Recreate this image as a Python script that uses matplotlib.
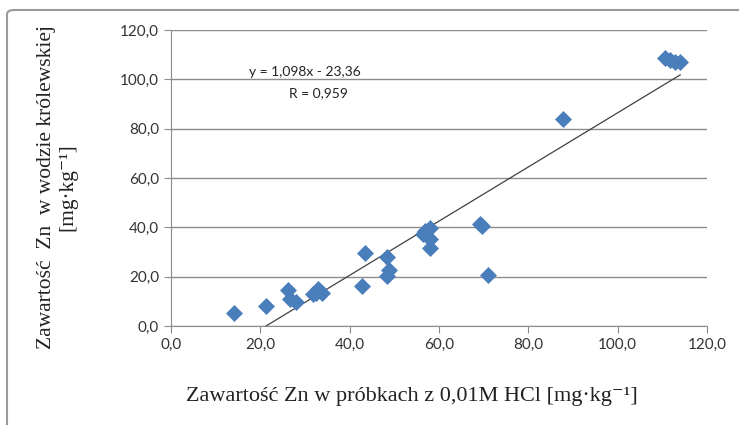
import numpy as np
import matplotlib.pyplot as plt
from matplotlib.patches import FancyBboxPatch

# data
x_hcl = [14.1, 21.2, 26.1, 26.7, 28.0, 31.9, 32.5, 33.0, 33.7, 42.8, 43.5, 48.4,
         48.9, 48.3, 70.9, 56.4, 56.9, 57.9, 57.9, 57.9, 69.2, 69.6, 87.7,
         110.6, 111.8, 112.9, 114.0]
y_krol = [5.2, 8.2, 14.7, 10.9, 9.8, 12.9, 13.5, 15.0, 13.3, 16.3, 29.4, 28.0,
          22.6, 20.1, 20.5, 37.1, 38.5, 39.9, 35.1, 31.7, 41.2, 40.5, 84.1,
          108.6, 107.9, 106.9, 107.2]
slope = 1.098
intercept = -23.36
r_value = 0.959
ticks = [0, 20, 40, 60, 80, 100, 120]

serif = ['Liberation Serif', 'DejaVu Serif']

fig = plt.figure(figsize=(7.39, 4.25), dpi=100)

# outer chart frame (cut off on the right and bottom like the source)
frame = FancyBboxPatch((7 / 739, -0.05), 1.05, 1 - 10 / 425 + 0.05,
                       boxstyle="round,pad=0,rounding_size=0.01",
                       transform=fig.transFigure, fill=False,
                       edgecolor='#9a9a9a', linewidth=1.5)
fig.patches.append(frame)

ax = fig.add_axes([171 / 739, 1 - 326 / 425, (707 - 171) / 739, (326 - 30) / 425])

ax.scatter(x_hcl, y_krol, marker='D', s=75, color='#4a7ebb', zorder=3,
           linewidths=0)

xs = np.array([min(x_hcl), max(x_hcl)])
ax.plot(xs, slope * xs + intercept, color='#404040', linewidth=0.9, zorder=2)

ax.set_xlim(0, 120)
ax.set_ylim(0, 120)
ax.set_xticks(ticks)
ax.set_yticks(ticks)
ax.set_xticklabels([f"{t:.1f}".replace('.', ',') for t in ticks])
ax.set_yticklabels([f"{t:.1f}".replace('.', ',') for t in ticks])
ax.grid(axis='y', color='#8c8c8c', linewidth=1)
ax.set_axisbelow(True)
for s in ['top', 'right']:
    ax.spines[s].set_visible(False)
for s in ['left', 'bottom']:
    ax.spines[s].set_color('#8c8c8c')
ax.tick_params(colors='#8c8c8c', length=5, labelcolor='#333333',
               labelsize=11)
for lab in ax.get_xticklabels() + ax.get_yticklabels():
    lab.set_family('Lato')

ax.text(305 / 739, 1 - 72 / 425,
        "y = " + f"{slope:.3f}".replace('.', ',') + "x - "
        + f"{-intercept:.2f}".replace('.', ','),
        transform=fig.transFigure, ha='center', va='center', fontsize=10,
        family='Lato', color='#222222')
ax.text(318 / 739, 1 - 93 / 425, "R = " + f"{r_value:.3f}".replace('.', ','),
        transform=fig.transFigure, ha='center', va='center', fontsize=10,
        family='Lato', color='#222222')

fig.text(412 / 739, 1 - 396 / 425,
         "Zawartość Zn w próbkach z 0,01M HCl [mg·kg⁻¹]",
         ha='center', va='center', fontsize=16, family=serif,
         color='#222222')
fig.text(57 / 739, 1 - 187 / 425,
         "Zawartość  Zn  w wodzie królewskiej\n[mg·kg⁻¹]",
         ha='center', va='center', rotation=90, fontsize=15.5,
         family=serif, color='#222222', linespacing=1.15)

fig.savefig('out.png', dpi=100)
